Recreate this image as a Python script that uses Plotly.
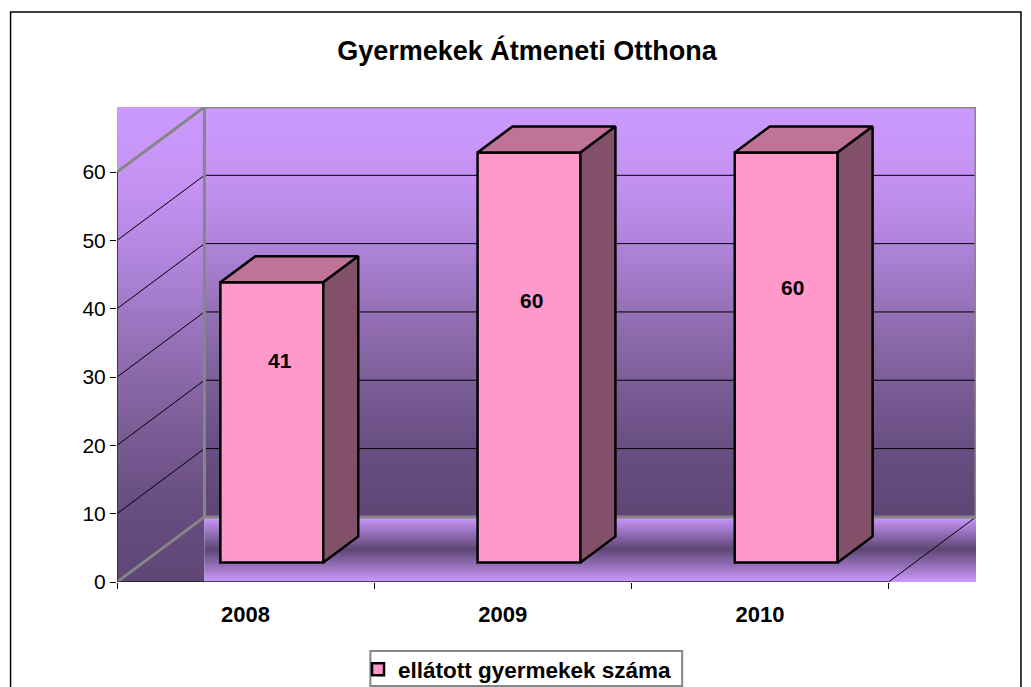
import plotly.graph_objects as go

# --- data ---
years = ["2008", "2009", "2010"]
children = [41, 60, 60]
series_name = "ellátott gyermekek száma"
title_text = "Gyermekek Átmeneti Otthona"
y_ticks = [0, 10, 20, 30, 40, 50, 60]

# --- 3D box geometry, in axis units ---
DX, DY = 0.34, 9.53        # depth of the chart box
BAR_WIDTH = 0.4
NEAR, FAR = 0.3, 0.7       # depth fractions of each bar
XMAX, YMAX = 3 + DX, 60 + DY

LIGHT, DARK = "#CC99FF", "#5E4675"
FRONT, TOP, SIDE = "#FF99CC", "#BF7399", "#83506A"
GREY = "#868686"
FONT = "Liberation Sans"

# pixel nudges of data labels from the middle of each bar front
label_nudge_x = [8, 2, 6]
label_nudge_y = [62, 57, 70]

fig = go.Figure()


def poly(xs, ys, axes=("x", "y"), **kw):
    fig.add_trace(go.Scatter(x=xs, y=ys, xaxis=axes[0], yaxis=axes[1], mode="lines",
                             showlegend=False, hoverinfo="skip", cliponaxis=False, **kw))


def grad(xs, ys, scale):
    poly(xs + [xs[0]], ys + [ys[0]], fill="toself", line=dict(width=0),
         fillgradient=dict(type="vertical", colorscale=scale))


# --- backdrop (main axes) ---
wall_scale = [[0, DARK], [0.168, "#684E82"], [0.334, "#7C5E98"], [0.5, "#9470B5"],
              [0.666, "#AF84DB"], [0.834, "#C592F3"], [1, LIGHT]]
grad([0, DX, DX, 0], [0, 0, YMAX, YMAX], wall_scale)
grad([DX, XMAX, XMAX, DX], [DY, DY, YMAX, YMAX], wall_scale)
grad([DX, XMAX, XMAX, DX], [0, 0, DY, DY], [[0, LIGHT], [0.5, DARK], [1, LIGHT]])

for v in y_ticks[1:-1]:
    poly([0, DX, XMAX], [v, v + DY, v + DY], line=dict(color="black", width=1))
poly([3, XMAX], [0, DY], line=dict(color="black", width=1))
poly([0, DX, XMAX, XMAX, DX, 0], [0, DY, DY, YMAX, YMAX, 60], line=dict(color=GREY, width=3))
poly([DX, DX], [DY, YMAX], line=dict(color=GREY, width=3))

# --- bars (overlay axes) ---
base = NEAR * DY
centers = [i + 0.5 + NEAR * DX for i in range(len(years))]
fig.add_trace(go.Bar(x=centers, y=children, base=base, width=BAR_WIDTH, name=series_name,
                     xaxis="x2", yaxis="y2", hoverinfo="skip",
                     marker=dict(color=FRONT, line=dict(color="black", width=2.5))))
ddx, ddy = (FAR - NEAR) * DX, (FAR - NEAR) * DY
for c, v in zip(centers, children):
    l, r, t = c - BAR_WIDTH / 2, c + BAR_WIDTH / 2, base + v
    poly([l, r, r + ddx, l + ddx, l], [t, t, t + ddy, t + ddy, t], ("x2", "y2"),
         fill="toself", fillcolor=TOP, line=dict(color="black", width=2.5))
    poly([r, r + ddx, r + ddx, r, r], [base, base + ddy, t + ddy, t, base], ("x2", "y2"),
         fill="toself", fillcolor=SIDE, line=dict(color="black", width=2.5))

# --- axis lines ---
poly([0, 3], [0, 0], ("x2", "y2"), line=dict(color="#222222", width=1.5))
poly([0, 0], [0, 60], ("x2", "y2"), line=dict(color="#333333", width=1.8))

# --- data labels ---
for c, v, nx, ny in zip(centers, children, label_nudge_x, label_nudge_y):
    fig.add_annotation(x=c, y=base + v / 2, xref="x2", yref="y2", text=f"<b>{v}</b>",
                       showarrow=False, xshift=nx, yshift=ny,
                       font=dict(family=FONT, size=21, color="black"))

# --- layout ---
W, H = 1031, 687
L, R, T, B = 116.5, 55, 107, 105
pw, ph = W - L - R, H - T - B
px = lambda v: (v - L) / pw
py = lambda v: (H - B - v) / ph
fig.add_shape(type="rect", xref="paper", yref="paper", layer="below",
              x0=px(10), x1=px(1021), y0=py(700), y1=py(12),
              line=dict(color="black", width=1.5), fillcolor="white")
fig.add_shape(type="rect", xref="paper", yref="paper", layer="below",
              x0=px(370), x1=px(682), y0=py(686), y1=py(651),
              line=dict(color=GREY, width=2), fillcolor="white")

fig.update_layout(
    width=W, height=H, margin=dict(l=L, r=R, t=T, b=B, autoexpand=False),
    paper_bgcolor="white", plot_bgcolor="rgba(0,0,0,0)",
    font=dict(family=FONT, color="black", size=21),
    title=dict(text=f"<b>{title_text}</b>", x=527 / W, xanchor="center", xref="container",
               y=1 - 51 / H, yanchor="middle", yref="container",
               font=dict(family=FONT, size=27, color="black")),
    xaxis=dict(range=[0, XMAX], tickmode="array", tickvals=[0.5, 1.5, 2.5], ticktext=years,
               tickfont=dict(family=FONT, size=22, weight="bold"), ticks="", showgrid=False,
               zeroline=False, showline=False, ticklabelstandoff=17,
               minor=dict(tickmode="array", tickvals=[0, 1, 2, 3], ticks="outside",
                          ticklen=6, tickcolor="black", tickwidth=1, showgrid=False)),
    yaxis=dict(range=[0, YMAX], tickmode="array", tickvals=y_ticks, ticks="outside", ticklen=6,
               tickcolor="black", tickwidth=1, showgrid=False, zeroline=False, showline=False,
               tickfont=dict(family=FONT, size=21)),
    xaxis2=dict(range=[0, XMAX], overlaying="x", visible=False),
    yaxis2=dict(range=[0, YMAX], overlaying="y", visible=False),
    legend=dict(x=370 / W, y=1 - 648 / H, xref="container", yref="container",
                xanchor="left", yanchor="top", orientation="h",
                bgcolor="rgba(0,0,0,0)", borderwidth=0,
                font=dict(family=FONT, size=22.5, weight="bold"), indentation=-12),
    showlegend=True, barmode="overlay", hovermode=False,
)

fig.write_html("out.html", config={"displayModeBar": False},
               post_script="document.body.style.margin='0';document.body.style.overflow='hidden';")
